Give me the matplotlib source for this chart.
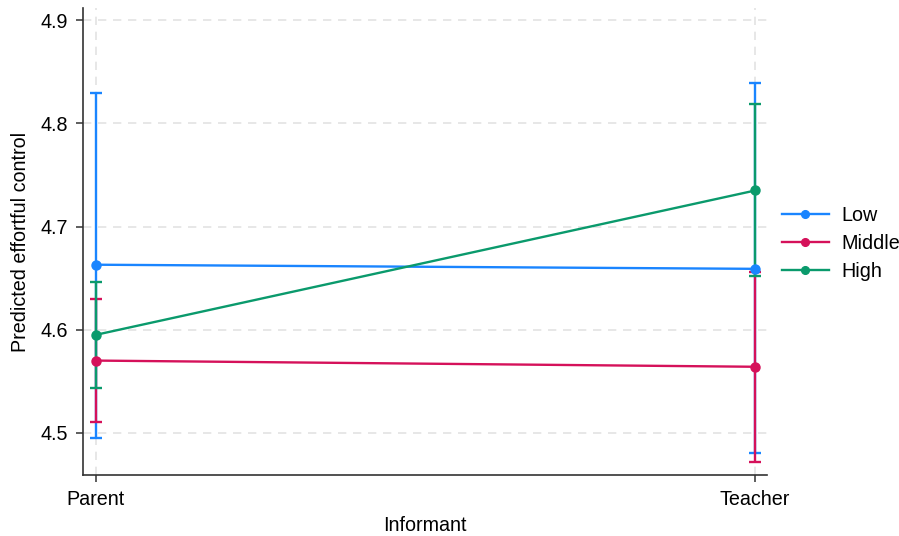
import numpy as np
import matplotlib.pyplot as plt

plt.rcParams['font.family'] = ['Liberation Sans', 'DejaVu Sans']

# Predicted margins by informant and group, with 95% CIs
informant = ["Parent", "Teacher"]
groups = ["Low", "Middle", "High"]
margin = {
    "Low": [4.663, 4.659],
    "Middle": [4.570, 4.564],
    "High": [4.595, 4.735],
}
ci_low = {
    "Low": [4.495, 4.480],
    "Middle": [4.510, 4.472],
    "High": [4.543, 4.652],
}
ci_high = {
    "Low": [4.830, 4.839],
    "Middle": [4.630, 4.656],
    "High": [4.646, 4.819],
}
colors = {"Low": "#1a85ff", "Middle": "#d5115a", "High": "#0a9a6c"}

x = np.arange(len(informant))

fig = plt.figure(figsize=(8.99, 5.36), dpi=100)
ax = fig.add_axes([0.0923, 0.1138, 0.7609, 0.8712])

# confidence intervals first, then lines with markers on top
for i, g in enumerate(groups):
    m = np.array(margin[g])
    err = [m - np.array(ci_low[g]), np.array(ci_high[g]) - m]
    ax.errorbar(x, m, yerr=err, fmt="none", ecolor=colors[g],
                elinewidth=1.7, capsize=4, capthick=1.7, zorder=2 + i)
for i, g in enumerate(groups):
    ax.plot(x, margin[g], color=colors[g], lw=1.7, marker="o", ms=6.5,
            label=g, zorder=6 + i)

ax.set_xlim(-0.0197, 1.018)
ax.set_ylim(4.459, 4.912)
ax.set_xticks(x)
ax.set_xticklabels(informant)
ax.set_yticks([4.5, 4.6, 4.7, 4.8, 4.9])
ax.set_yticklabels(["4.5", "4.6", "4.7", "4.8", "4.9"])

ax.grid(True, color="#e3e3e3", lw=1.2, ls=(0, (5, 4)))
ax.set_axisbelow(True)
for s in ["top", "right"]:
    ax.spines[s].set_visible(False)
for s in ["left", "bottom"]:
    ax.spines[s].set_color("#333333")
    ax.spines[s].set_linewidth(1.2)
ax.tick_params(axis="both", labelsize=14.2, length=5, width=1.1,
               color="#333333", pad=6)

ax.set_xlabel("Informant", fontsize=14.2, labelpad=5)
ax.set_ylabel("Predicted effortful control", fontsize=14.2, labelpad=7)

leg = ax.legend(loc="center left", bbox_to_anchor=(1.01, 0.496), frameon=False,
                fontsize=14.2, handlelength=2.4, handletextpad=0.6,
                labelspacing=0.45, borderaxespad=0, markerscale=0.85)

fig.savefig("out.png", dpi=100)
